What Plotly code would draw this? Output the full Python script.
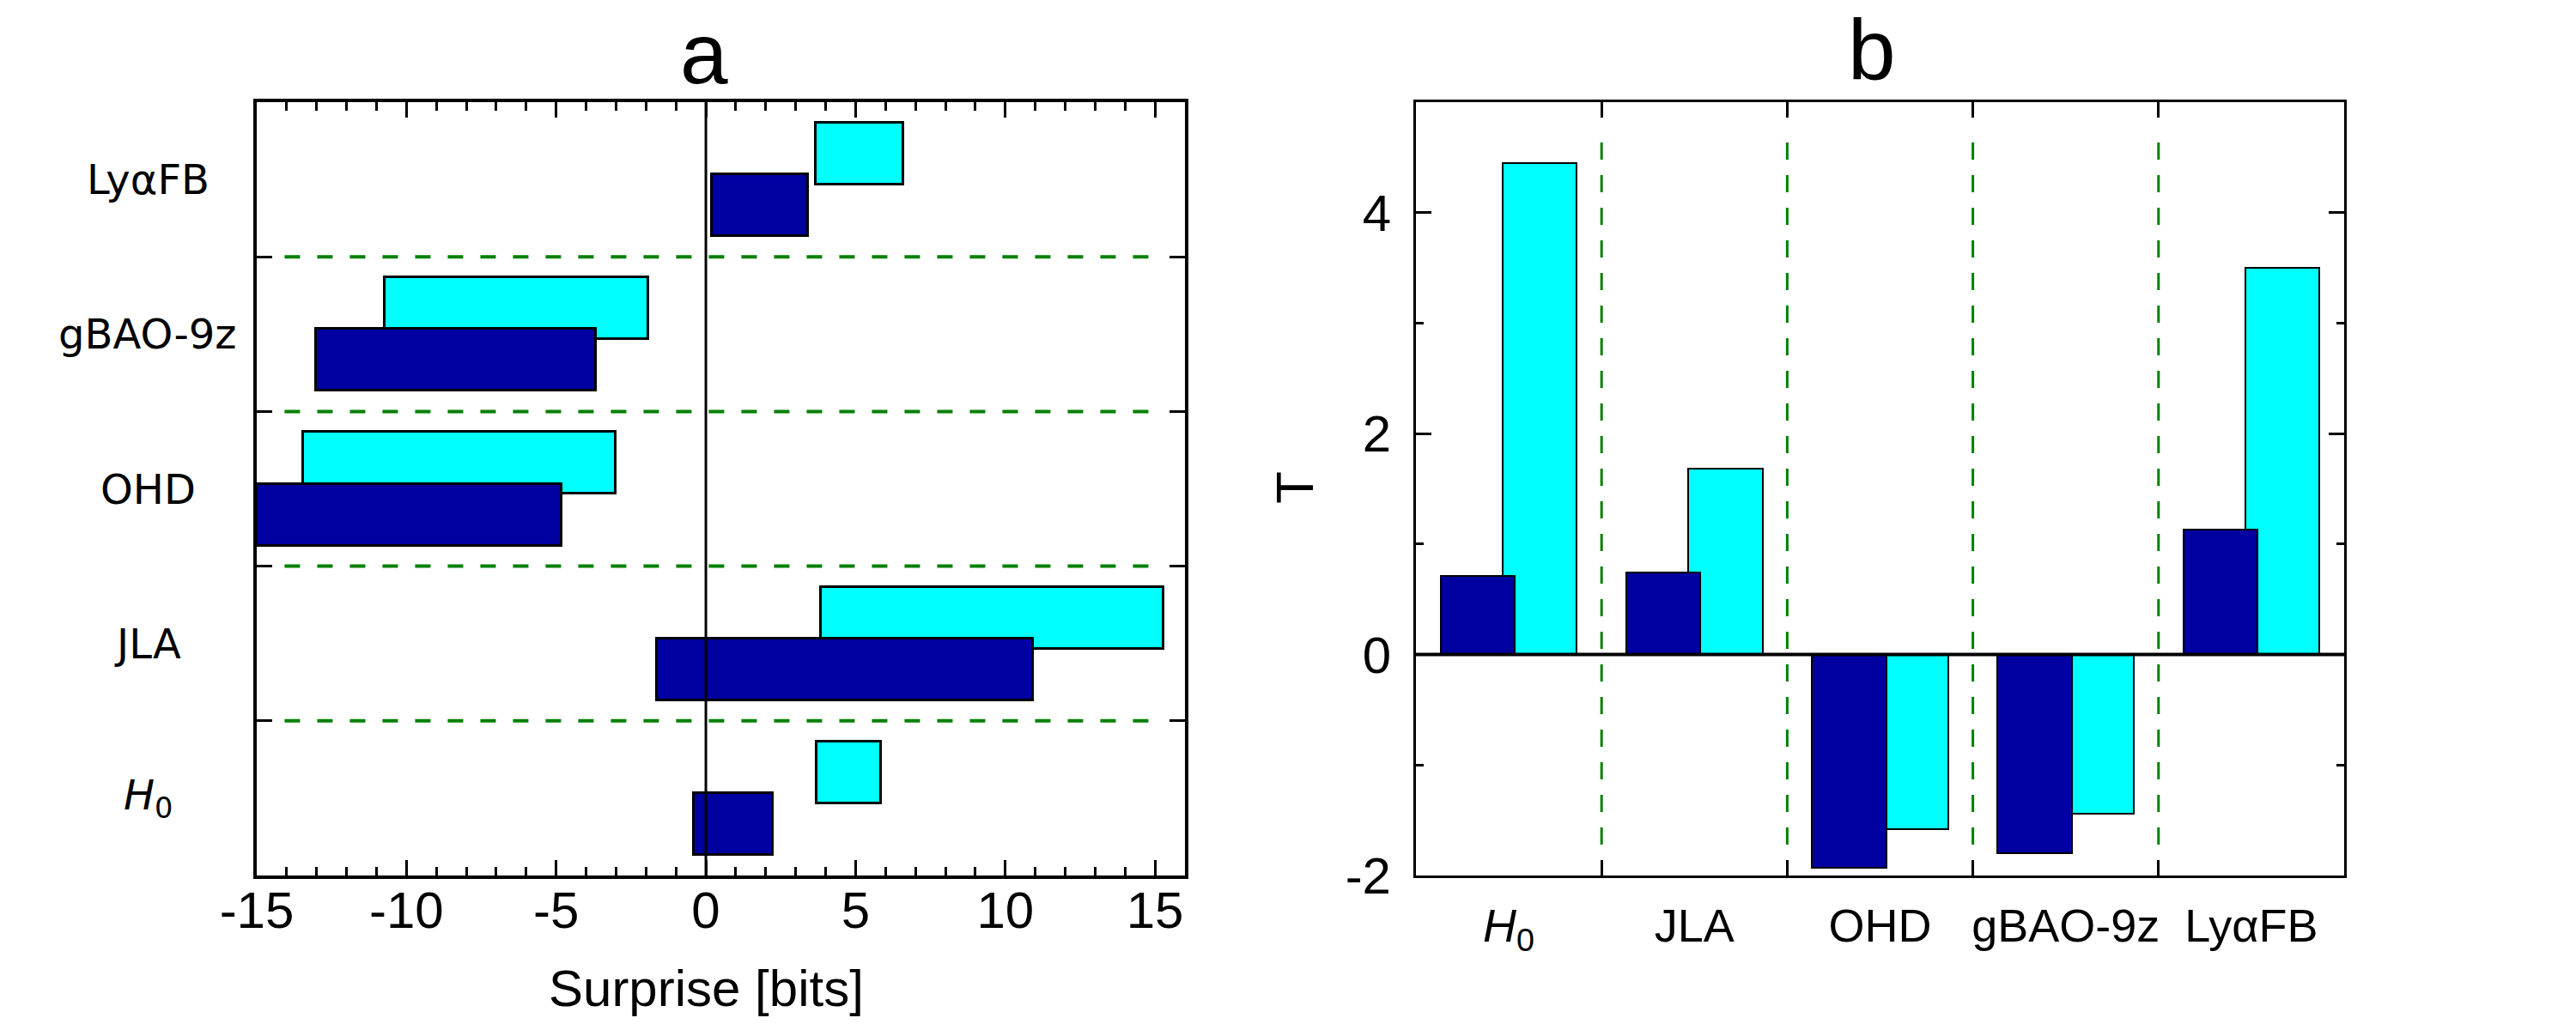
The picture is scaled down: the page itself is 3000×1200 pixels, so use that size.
import plotly.graph_objects as go

# ---------------- data ----------------
categories = ["H0", "JLA", "OHD", "gBAO-9z", "LyαFB"]
cat_labels = ["<i>H</i><sub>0</sub>", "JLA", "OHD", "gBAO-9z", "LyαFB"]

# panel a: surprise intervals [bits]
navy_start = [-0.40, -1.65, -15.0, -13.03, 0.20]
navy_end = [2.23, 10.93, -4.82, -3.66, 3.40]
cyan_start = [3.70, 3.85, -13.44, -10.74, 3.66]
cyan_end = [5.86, 15.28, -3.00, -1.92, 6.58]

# panel b: T values
navy_T = [0.71, 0.74, -1.93, -1.80, 1.13]
cyan_T = [4.45, 1.68, -1.58, -1.44, 3.50]

x_ticks_a = [-15, -10, -5, 0, 5, 10, 15]
x_ticktext_a = ["-15", "-10", "-5", "0", "5", "10", "15"]
y_ticks_b = [-2, 0, 2, 4]
y_ticktext_b = ["-2", "0", "2", "4"]

# ---------------- style ----------------
NAVY = "#0000A0"
CYAN = "#00FFFF"
GREEN = "#008000"
FONT = "Liberation Sans, Arial, sans-serif"
WIDE = "DejaVu Sans, Liberation Sans, sans-serif"
W, H = 3000, 1200

idx = list(range(len(categories)))
bounds = [i + 0.5 for i in idx[:-1]]

fig = go.Figure()

# panel a (horizontal floating bars)
fig.add_trace(go.Bar(
    orientation="h", y=idx, base=cyan_start,
    x=[e - s for s, e in zip(cyan_start, cyan_end)],
    width=0.4, offset=-0.033,
    marker=dict(color=CYAN, line=dict(color="black", width=3)),
    xaxis="x", yaxis="y", showlegend=False))
fig.add_trace(go.Bar(
    orientation="h", y=idx, base=navy_start,
    x=[e - s for s, e in zip(navy_start, navy_end)],
    width=0.4, offset=-0.367,
    marker=dict(color=NAVY, line=dict(color="black", width=3)),
    xaxis="x", yaxis="y", showlegend=False))

# panel b (vertical bars)
fig.add_trace(go.Bar(
    x=idx, y=cyan_T, width=0.4, offset=-0.033,
    marker=dict(color=CYAN, line=dict(color="black", width=2)),
    xaxis="x2", yaxis="y2", showlegend=False))
fig.add_trace(go.Bar(
    x=idx, y=navy_T, width=0.4, offset=-0.367,
    marker=dict(color=NAVY, line=dict(color="black", width=2)),
    xaxis="x2", yaxis="y2", showlegend=False))

base_ax = dict(showline=True, linecolor="black", mirror="allticks",
               showgrid=False, zeroline=False, automargin=False,
               tickcolor="black")
tick_font = dict(family=FONT, size=60, color="black")

xa0, xa1 = 299 / W, 1380 / W
xb0, xb1 = 1649 / W, 2730 / W
y0, y1 = 1 - 1020 / H, 1 - 119 / H

fig.update_layout(
    width=W, height=H, margin=dict(l=0, r=0, t=0, b=0, autoexpand=False),
    template="none",
    paper_bgcolor="white", plot_bgcolor="white",
    barmode="overlay", bargap=0,
    font=dict(family=FONT, color="black"),
    xaxis=dict(domain=[xa0, xa1], range=[-15, 16],
               tickmode="array", tickvals=x_ticks_a, ticktext=x_ticktext_a,
               ticks="inside", ticklen=18, tickwidth=3, linewidth=4,
               tickfont=tick_font, ticklabelstandoff=-15,
               minor=dict(dtick=1, ticks="inside", ticklen=10, tickwidth=3, tickcolor="black"),
               anchor="y", **base_ax),
    yaxis=dict(domain=[y0, y1], range=[-0.5, 4.5], tickmode="array", tickvals=[],
               showticklabels=False, ticks="", linewidth=4, anchor="x",
               minor=dict(tickvals=bounds, ticks="inside", ticklen=18, tickwidth=3, tickcolor="black"),
               **base_ax),
    xaxis2=dict(domain=[xb0, xb1], range=[-0.5, 4.5], tickmode="array",
                tickvals=idx, ticktext=cat_labels, ticks="",
                tickfont=dict(family=FONT, size=54, color="black"),
                ticklabelstandoff=9, linewidth=3, anchor="y2",
                minor=dict(tickvals=bounds, ticks="inside", ticklen=18, tickwidth=2.5, tickcolor="black"),
                **base_ax),
    yaxis2=dict(domain=[y0, y1], range=[-2, 5], tickmode="array",
                tickvals=y_ticks_b, ticktext=y_ticktext_b,
                ticks="inside", ticklen=18, tickwidth=3, linewidth=3,
                tickfont=tick_font, ticklabelstandoff=14,
                minor=dict(dtick=1, ticks="inside", ticklen=9, tickwidth=3, tickcolor="black"),
                anchor="x2", **base_ax),
)

# separators
for b in bounds:
    fig.add_shape(type="line", xref="x domain", yref="y", x0=0.03, x1=0.975, y0=b, y1=b,
                  line=dict(color=GREEN, width=4, dash="18px,20px"), layer="below")
    fig.add_shape(type="line", xref="x2", yref="y2 domain", x0=b, x1=b, y0=0.04, y1=0.96,
                  line=dict(color=GREEN, width=3, dash="20px,18px"), layer="below")

# zero lines on top of bars
fig.add_shape(type="line", xref="x", yref="y domain", x0=0, x1=0, y0=0, y1=1,
              line=dict(color="black", width=3), layer="above")
fig.add_shape(type="line", xref="x2 domain", yref="y2", x0=0, x1=1, y0=0, y1=0,
              line=dict(color="black", width=4), layer="above")

# panel a category labels (centered)
for i, lab in zip(idx, cat_labels):
    fig.add_annotation(text=lab, xref="paper", yref="y", x=172 / W, y=i,
                       xanchor="center", yanchor="middle", showarrow=False,
                       font=dict(family=WIDE, size=48, color="black"))

# titles / axis titles
fig.add_annotation(text="a", xref="paper", yref="paper", x=820 / W, y=1 - 62 / H,
                   xanchor="center", yanchor="middle", showarrow=False,
                   font=dict(family=FONT, size=100, color="black"))
fig.add_annotation(text="b", xref="paper", yref="paper", x=2180 / W, y=1 - 58 / H,
                   xanchor="center", yanchor="middle", showarrow=False,
                   font=dict(family=FONT, size=100, color="black"))
fig.add_annotation(text="Surprise [bits]", xref="paper", yref="paper", x=822 / W, y=1 - 1151 / H,
                   xanchor="center", yanchor="middle", showarrow=False,
                   font=dict(family=FONT, size=60, color="black"))
fig.add_annotation(text="T", xref="paper", yref="paper", x=1507 / W, y=1 - 568 / H,
                   xanchor="center", yanchor="middle", showarrow=False, textangle=-90,
                   font=dict(family=FONT, size=62, color="black"))

fig.write_html("out.html")
